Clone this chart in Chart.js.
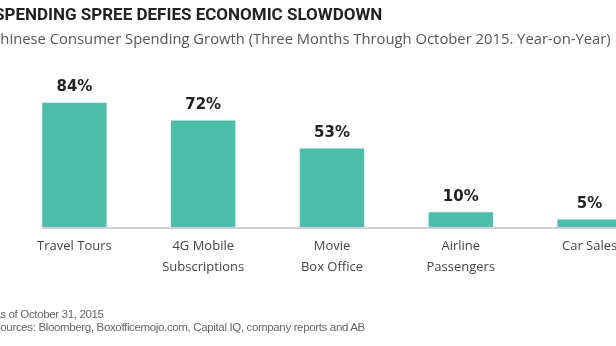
<!DOCTYPE html>
<html>
<head>
<meta charset="utf-8">
<script src="https://cdn.jsdelivr.net/npm/chart.js@4"></script>
<style>
  html, body { margin: 0; padding: 0; background: #fff; }
  body { width: 616px; height: 346px; overflow: hidden; position: relative; }
  #title { position: absolute; left: -6px; top: 4px; font: bold 17px Roboto, sans-serif; color: #222; white-space: nowrap; }
  #subtitle { position: absolute; left: -9px; top: 28px; font: 14.8px "Open Sans", sans-serif; color: #555; white-space: nowrap; }
  #foot { position: absolute; left: -7px; top: 308px; font: 11.5px "Liberation Sans Narrow", "Liberation Sans", sans-serif; color: #666; line-height: 13px; white-space: nowrap; letter-spacing: -0.35px; }
  #wrap { position: absolute; left: 0; top: 0; width: 664px; height: 346px; }
</style>
</head>
<body>
<div id="wrap"><canvas id="c"></canvas></div>
<div id="title">SPENDING SPREE DEFIES ECONOMIC SLOWDOWN</div>
<div id="subtitle">Chinese Consumer Spending Growth (Three Months Through October 2015. Year-on-Year)</div>
<div id="foot">As of October 31, 2015<br>Sources: Bloomberg, Boxofficemojo.com, Capital IQ, company reports and AB</div>
<script>
'use strict';

const categories = [['Travel Tours'], ['4G Mobile', 'Subscriptions'], ['Movie', 'Box Office'], ['Airline', 'Passengers'], ['Car Sales']];
const growth = [84, 72, 53, 10, 5];

const TEAL = '#4bbfa9';

// value labels above bars + baseline starting at the first bar
const labelsPlugin = {
    id: 'barLabels',
    beforeDatasetsDraw(chart) {
        const ctx = chart.ctx;
        const bars = chart.getDatasetMeta(0).data;
        const y0 = chart.scales.y.getPixelForValue(0);
        ctx.save();
        ctx.strokeStyle = '#d0d0d0';
        ctx.lineWidth = 2;
        ctx.beginPath();
        ctx.moveTo(bars[0].x - bars[0].width / 2, y0 + 1);
        ctx.lineTo(chart.chartArea.right + 20, y0 + 1);
        ctx.stroke();
        ctx.restore();
    },
    afterDatasetsDraw(chart) {
        const ctx = chart.ctx;
        const bars = chart.getDatasetMeta(0).data;
        ctx.save();
        ctx.font = 'bold 15px "DejaVu Sans", sans-serif';
        ctx.fillStyle = '#222';
        ctx.textAlign = 'center';
        ctx.textBaseline = 'bottom';
        bars.forEach((b, i) => {
            ctx.fillText(growth[i] + '%', b.x, b.y - 8);
        });
        ctx.restore();
    }
};

document.addEventListener('DOMContentLoaded', function () {
    new Chart(document.getElementById('c'), {
        type: 'bar',
        data: {
            labels: categories,
            datasets: [{
                data: growth,
                backgroundColor: TEAL,
                borderWidth: 0,
                categoryPercentage: 1,
                barPercentage: 0.5,
            }]
        },
        options: {
            responsive: true,
            maintainAspectRatio: false,
            animation: false,
            layout: { padding: { left: 10, right: 10, top: 79, bottom: 0 } },
            plugins: { legend: { display: false }, tooltip: { enabled: false } },
            scales: {
                x: {
                    grid: { display: false, drawTicks: false },
                    border: { display: false },
                    ticks: {
                        color: '#444',
                        padding: 9,
                        font: { family: '"Open Sans", sans-serif', size: 13, lineHeight: 1.6 },
                        maxRotation: 0,
                        autoSkip: false
                    },
                    afterFit: s => { s.height = 119; }
                },
                y: { display: false, min: 0, max: 100 }
            }
        },
        plugins: [labelsPlugin]
    });
});
</script>
</body>
</html>
